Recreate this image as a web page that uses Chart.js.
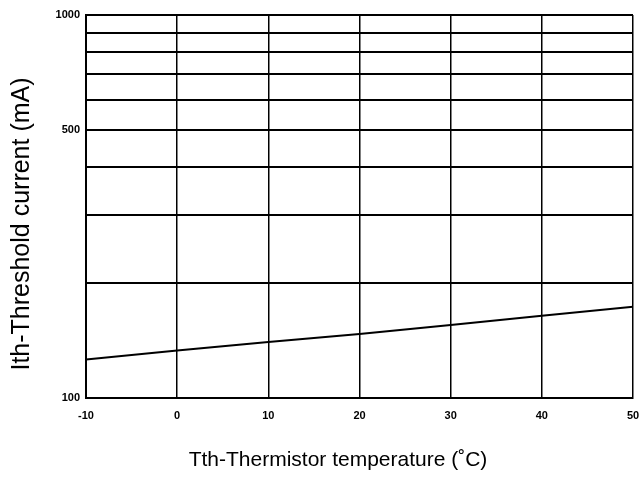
<!DOCTYPE html>
<html>
<head>
<meta charset="utf-8">
<script src="https://cdn.jsdelivr.net/npm/chart.js@4/dist/chart.umd.min.js"></script>
<style>
html,body{margin:0;padding:0;background:#fff;}
#wrap{width:642px;height:477px;position:relative;}
</style>
</head>
<body>
<div id="wrap"><canvas id="c" width="642" height="477"></canvas></div>
<script>
const temperatures = [-10, 0, 10, 20, 30, 40, 50];
const thresholdCurrent = [126, 133, 140, 147, 155, 164, 173];
const xTickLabels = [-10, 0, 10, 20, 30, 40, 50];
const yGridValues = [100, 200, 300, 400, 500, 600, 700, 800, 900, 1000];
const yTickLabels = [100, 500, 1000];
const xTitle = 'Tth-Thermistor temperature (˚C)';
const yTitle = 'Ith-Threshold current (mA)';

const points = temperatures.map((t, i) => ({x: t, y: thresholdCurrent[i]}));

const titlePlugin = {
  id: 'axisTitles',
  afterDraw(chart) {
    const ctx = chart.ctx;
    ctx.save();
    ctx.fillStyle = '#000';
    ctx.textAlign = 'center';
    ctx.textBaseline = 'middle';
    ctx.font = '21px "Liberation Sans"';
    ctx.fillText(xTitle, 338, 460);
    ctx.translate(22, 224);
    ctx.rotate(-Math.PI / 2);
    ctx.font = '25px "Liberation Sans"';
    ctx.fillText(yTitle, 0, 0);
    ctx.restore();
  }
};

new Chart(document.getElementById('c'), {
  type: 'scatter',
  data: {
    datasets: [{
      data: points,
      showLine: true,
      borderColor: '#000',
      borderWidth: 2,
      pointRadius: 0,
      tension: 0
    }]
  },
  options: {
    responsive: false,
    animation: false,
    events: [],
    layout: {padding: {left: 0, right: 9, top: 15, bottom: 0}},
    plugins: {legend: {display: false}, tooltip: {enabled: false}},
    scales: {
      x: {
        type: 'linear',
        min: -10, max: 50,
        afterBuildTicks: s => { s.ticks = xTickLabels.map(v => ({value: v})); },
        afterFit: s => { s.height = 79; s.paddingRight = 0; s.paddingLeft = 0; },
        grid: {color: '#000', lineWidth: 1.5, drawTicks: false},
        border: {color: '#000', width: 2},
        ticks: {color: '#000', font: {family: 'Liberation Sans', size: 11, weight: 'bold'}, padding: 11, maxRotation: 0},
        title: {display: false}
      },
      y: {
        type: 'logarithmic',
        min: 100, max: 1000,
        afterBuildTicks: s => { s.ticks = yGridValues.map(v => ({value: v})); },
        afterFit: s => { s.width = 86; s.paddingTop = 0; s.paddingBottom = 0; },
        grid: {color: '#000', lineWidth: 2, drawTicks: false},
        border: {color: '#000', width: 2},
        ticks: {
          color: '#000', font: {family: 'Liberation Sans', size: 11, weight: 'bold'}, padding: 6,
          callback: v => yTickLabels.includes(v) ? String(v) : ''
        },
        title: {display: false}
      }
    }
  },
  plugins: [titlePlugin]
});
</script>
</body>
</html>
